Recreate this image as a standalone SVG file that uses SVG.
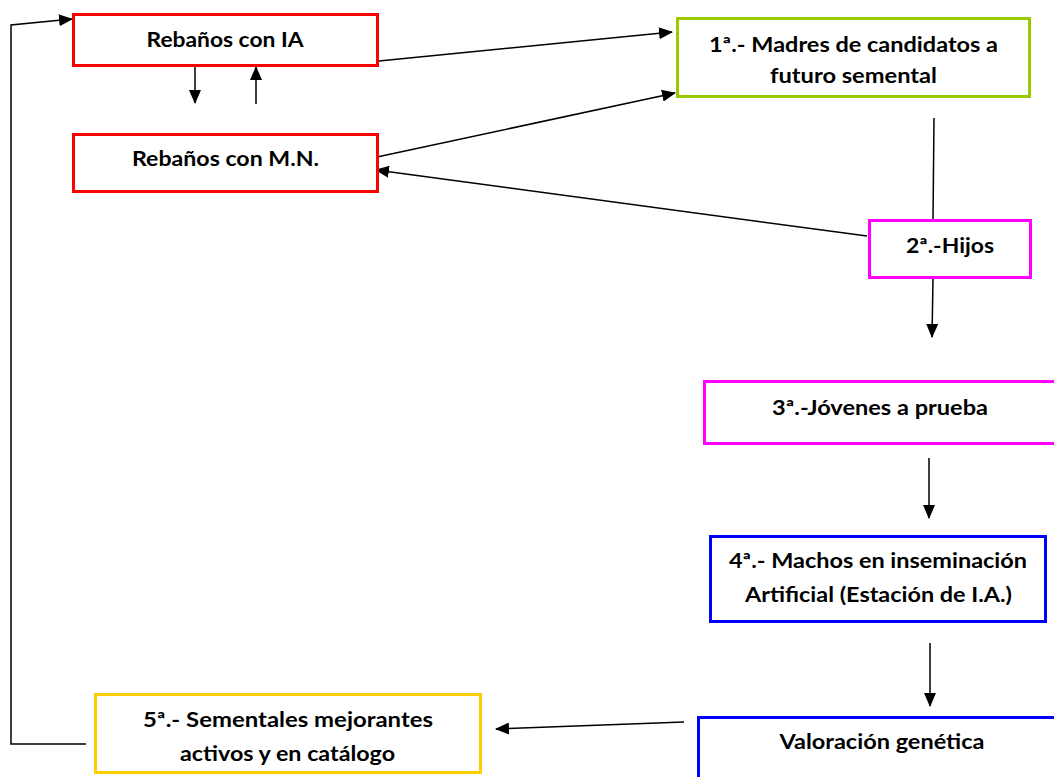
<svg xmlns="http://www.w3.org/2000/svg" width="1054" height="777" viewBox="0 0 1054 777">
<style>
.box{fill:#ffffff;stroke-width:3}
.red{stroke:#ff0000}
.green{stroke:#99cc00}
.mag{stroke:#ff00ff}
.blue{stroke:#0000ff}
.yel{stroke:#ffcc00}
.t{font-family:Lato,"Open Sans","Liberation Sans",sans-serif;font-weight:700;font-size:21px;fill:#000;text-anchor:middle}
.c{fill:none;stroke:#000;stroke-width:1.5}
.a{marker-end:url(#ah)}
</style>
<defs>
<marker id="ah" markerUnits="userSpaceOnUse" markerWidth="14" markerHeight="12" viewBox="0 0 14 12" refX="13" refY="6" orient="auto">
<path d="M0,0 L14,6 L0,12 Z" fill="#000"/>
</marker>
</defs>
<rect width="1054" height="777" fill="#ffffff"/>
<g id="connectors">
<line class="c a" x1="379" y1="61" x2="672" y2="32"/>
<line class="c a" x1="377" y1="157" x2="675" y2="93"/>
<line class="c a" x1="867" y1="236" x2="376" y2="170"/>
<line class="c a" x1="195" y1="64" x2="195" y2="103"/>
<line class="c a" x1="256" y1="104" x2="256" y2="67"/>
<line class="c" x1="934" y1="118" x2="933" y2="219"/>
<line class="c a" x1="933" y1="279" x2="932" y2="337"/>
<line class="c a" x1="929" y1="458" x2="929" y2="518"/>
<line class="c a" x1="930" y1="643" x2="930" y2="706"/>
<line class="c a" x1="684" y1="722" x2="496" y2="729"/>
<polyline class="c a" points="86,744 11,744 11,25 72,19"/>
</g>
<g id="rebanos-ia">
<rect class="box red" x="73.5" y="14.5" width="304" height="51"/>
<text class="t" x="225" y="47" textLength="157" lengthAdjust="spacingAndGlyphs">Rebaños con IA</text>
</g>
<g id="rebanos-mn">
<rect class="box red" x="73.5" y="134.5" width="304" height="57"/>
<text class="t" x="225.5" y="166" textLength="187" lengthAdjust="spacingAndGlyphs">Rebaños con M.N.</text>
</g>
<g id="madres">
<rect class="box green" x="677.5" y="18.5" width="352" height="78"/>
<text class="t" x="853.5" y="52" textLength="289" lengthAdjust="spacingAndGlyphs">1ª.- Madres de candidatos a</text>
<text class="t" x="853.5" y="83" textLength="167" lengthAdjust="spacingAndGlyphs">futuro semental</text>
</g>
<g id="hijos">
<rect class="box mag" x="869.5" y="220.5" width="161" height="57"/>
<text class="t" x="950" y="253" textLength="88" lengthAdjust="spacingAndGlyphs">2ª.-Hijos</text>
</g>
<g id="jovenes">
<rect class="box mag" x="704.5" y="381.5" width="400" height="62"/>
<text class="t" x="880" y="415" textLength="216" lengthAdjust="spacingAndGlyphs">3ª.-Jóvenes a prueba</text>
</g>
<g id="machos">
<rect class="box blue" x="710.5" y="536.5" width="335" height="85"/>
<text class="t" x="878" y="568" textLength="298" lengthAdjust="spacingAndGlyphs">4ª.- Machos en inseminación</text>
<text class="t" x="878.5" y="602" textLength="267" lengthAdjust="spacingAndGlyphs">Artificial (Estación de I.A.)</text>
</g>
<g id="valoracion">
<rect class="box blue" x="698.5" y="717.5" width="400" height="100"/>
<text class="t" x="882" y="749" textLength="205" lengthAdjust="spacingAndGlyphs">Valoración genética</text>
</g>
<g id="sementales">
<rect class="box yel" x="95.5" y="694.5" width="385" height="78"/>
<text class="t" x="288" y="727" textLength="290" lengthAdjust="spacingAndGlyphs">5ª.- Sementales mejorantes</text>
<text class="t" x="287.5" y="761" textLength="215" lengthAdjust="spacingAndGlyphs">activos y en catálogo</text>
</g>
</svg>
